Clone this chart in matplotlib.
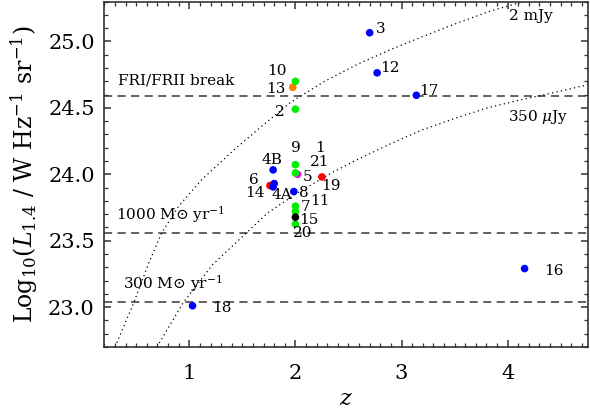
import matplotlib
matplotlib.use("Agg")
import matplotlib.pyplot as plt
from matplotlib.ticker import MultipleLocator, FormatStrFormatter

plt.rcParams['font.family'] = ['DejaVu Serif']
plt.rcParams['mathtext.fontset'] = 'dejavuserif'

# ---- data ----
src_ids = ['3', '12', '17', '10', '13', '2', '4B', '9', '1', '5', '19', '6',
           '14', '4A', '8', '11', '7', '15', '20', '16', '18']
src_z = [2.70, 2.77, 3.14, 2.00, 1.975, 2.00, 1.79, 2.00, 2.00, 2.02, 2.25, 1.76,
         1.80, 1.79, 1.985, 2.00, 2.00, 2.00, 2.00, 4.16, 1.03]
src_L = [25.066, 24.764, 24.595, 24.70, 24.655, 24.49, 24.033, 24.072, 24.01, 24.00,
         23.98, 23.915, 23.93, 23.905, 23.87, 23.76, 23.72, 23.677, 23.625, 23.29, 23.01]
src_group = ['blue', 'blue', 'blue', 'green', 'orange', 'green', 'blue', 'green',
             'green', 'magenta', 'red', 'red', 'blue', 'blue', 'blue', 'green',
             'green', 'black', 'green', 'blue', 'blue']

# flux-limit curves
curve_2mJy_z = [0.30, 0.475, 0.617, 0.74, 0.90, 1.117, 1.43, 1.74, 1.96, 2.275, 2.59,
                2.90, 3.21, 3.53, 3.84, 4.15, 4.30]
curve_2mJy_L = [22.70, 23.03, 23.33, 23.56, 23.76, 23.96, 24.19, 24.40, 24.545, 24.70,
                24.83, 24.94, 25.04, 25.14, 25.23, 25.30, 25.33]
curve_350_z = [0.695, 0.94, 1.22, 1.54, 1.74, 2.0, 2.338, 2.557, 2.87, 3.18, 3.50, 3.81,
               4.12, 4.435, 4.76]
curve_350_L = [22.70, 23.03, 23.32, 23.56, 23.71, 23.85, 24.01, 24.10, 24.22, 24.33,
               24.42, 24.50, 24.56, 24.615, 24.675]

# horizontal reference levels
hlines_L = [24.587, 23.56, 23.04]

# label texts and their placement
label_text = ['3', '12', '17', '10', '13', '2', '4B', '9', '1', '21', '5', '19', '6',
              '14', '4A', '8', '11', '7', '15', '20', '16', '18']
label_z = [2.80, 2.89, 3.255, 1.83, 1.815, 1.85, 1.78, 2.00, 2.23, 2.23, 2.11, 2.33,
           1.61, 1.62, 1.87, 2.08, 2.235, 2.095, 2.13, 2.07, 4.435, 1.305]
label_L = [25.096, 24.80, 24.63, 24.776, 24.64, 24.47, 24.11, 24.20, 24.20, 24.09,
           23.98, 23.915, 23.96, 23.86, 23.845, 23.86, 23.80, 23.755, 23.655, 23.556,
           23.27, 22.99]

note_text = ['FRI/FRII break', '1000 M$\\odot$ yr$^{-1}$', '300 M$\\odot$ yr$^{-1}$',
             '2 mJy', '350 $\\mu$Jy']
note_z = [0.875, 0.82, 0.84, 4.22, 4.29]
note_L = [24.71, 23.695, 23.18, 25.19, 24.43]

group_colors = {'blue': '#0000ff', 'green': '#00ee00', 'orange': '#ff8000',
                'red': '#ff0000', 'magenta': '#ff00ff', 'black': '#000000'}
group_order = {'red': 1, 'magenta': 1, 'orange': 2, 'blue': 3, 'green': 3, 'black': 4}

fig = plt.figure(figsize=(5.9, 4.13), dpi=100)
ax = fig.add_axes([0.177, 0.160, 0.820, 0.836])

for y in hlines_L:
    ax.axhline(y, color='#555555', lw=1.3, linestyle=(0, (4.5, 3)), zorder=1)

ax.plot(curve_2mJy_z, curve_2mJy_L, color='black', lw=0.9, linestyle=(0, (1, 2.6)), zorder=1)
ax.plot(curve_350_z, curve_350_L, color='black', lw=0.9, linestyle=(0, (1, 2.6)), zorder=1)

for zz, LL, g in zip(src_z, src_L, src_group):
    ax.scatter([zz], [LL], s=30, color=group_colors[g], edgecolors='none',
               zorder=3 + group_order[g])

for t, zz, LL in zip(label_text, label_z, label_L):
    ax.text(zz, LL, t, fontsize=11, ha='center', va='center', zorder=10)

for t, zz, LL in zip(note_text, note_z, note_L):
    ax.text(zz, LL, t, fontsize=11, ha='center', va='center', zorder=10)

ax.set_xlim(0.2, 4.76)
ax.set_ylim(22.7, 25.3)
ax.xaxis.set_major_locator(MultipleLocator(1))
ax.xaxis.set_minor_locator(MultipleLocator(0.1))
ax.yaxis.set_major_locator(MultipleLocator(0.5))
ax.yaxis.set_minor_locator(MultipleLocator(0.1))
ax.yaxis.set_major_formatter(FormatStrFormatter('%.1f'))
ax.tick_params(which='both', direction='in', top=True, right=True, color='#333333')
ax.tick_params(which='major', length=5, width=1.1, labelsize=15)
ax.tick_params(which='minor', length=3, width=0.9)
ax.tick_params(axis='x', which='major', pad=12)
ax.tick_params(axis='y', which='major', pad=7)
for sp in ax.spines.values():
    sp.set_linewidth(1.2)
    sp.set_color('#333333')

ax.set_xlabel('$z$', fontsize=16, labelpad=4)
ax.set_ylabel('Log$_{10}$($L_{1.4}$ / W Hz$^{-1}$ sr$^{-1}$)', fontsize=17, labelpad=6)

fig.savefig('out.png', dpi=100)
